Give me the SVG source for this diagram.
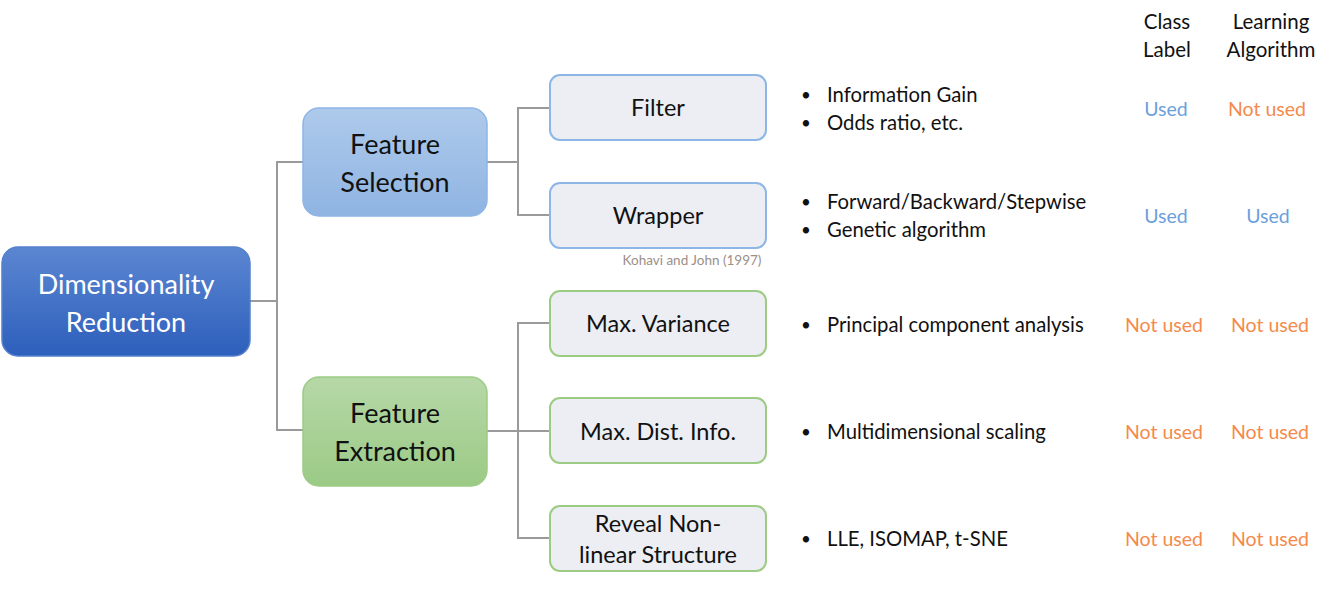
<svg xmlns="http://www.w3.org/2000/svg" width="1326" height="599" viewBox="0 0 1326 599">
<defs>
<linearGradient id="gRoot" x1="0" y1="0" x2="0" y2="1"><stop offset="0" stop-color="#5b86d1"/><stop offset="1" stop-color="#2d5fbc"/></linearGradient>
<linearGradient id="gSel" x1="0" y1="0" x2="0" y2="1"><stop offset="0" stop-color="#aecaeb"/><stop offset="1" stop-color="#8fb4e2"/></linearGradient>
<linearGradient id="gExt" x1="0" y1="0" x2="0" y2="1"><stop offset="0" stop-color="#b6d8a7"/><stop offset="1" stop-color="#9bca86"/></linearGradient>
</defs>
<style>
text{font-family:"Lato","Open Sans","DejaVu Sans",sans-serif;}
.big{font-size:27px;text-anchor:middle;fill:#111;}
.leaf{font-size:23.5px;text-anchor:middle;fill:#111;}
.lb{fill:#eceef3;stroke:#8db6e6;stroke-width:2;}
.lg{fill:#eceef3;stroke:#9ccb83;stroke-width:2;}
.conn{fill:none;stroke:#9a9a9a;stroke-width:2;}
.item{font-size:20.3px;fill:#111;}
.dot{font-size:17px;fill:#111;}
.hdr{font-size:20.5px;fill:#111;text-anchor:middle;}
.used{font-size:19.5px;fill:#6b9fdc;text-anchor:middle;}
.not{font-size:19.5px;fill:#f58a4a;text-anchor:middle;}
.note{font-size:13.5px;fill:#9b9088;text-anchor:middle;}
</style>
<g id="connectors">
<path class="conn" d="M250 301 H277 M303 162 H277 V430 H303"/>
<path class="conn" d="M487 162 H518 M550 108 H518 V215 H550"/>
<path class="conn" d="M487 431 H550 M550 323 H518 V538 H550"/>
</g>
<g id="root">
<rect x="2" y="247" width="248" height="109" rx="16" fill="url(#gRoot)" stroke="#5480cc" stroke-width="1.5"/>
<text class="big" x="126" y="294" style="fill:#fff">Dimensionality</text>
<text class="big" x="126" y="332" style="fill:#fff">Reduction</text>
</g>
<g id="feature-selection">
<rect x="303" y="108" width="184" height="108" rx="16" fill="url(#gSel)" stroke="#8db5e6" stroke-width="1.5"/>
<text class="big" x="395" y="154">Feature</text>
<text class="big" x="395" y="192">Selection</text>
</g>
<g id="feature-extraction">
<rect x="303" y="377" width="184" height="109" rx="16" fill="url(#gExt)" stroke="#9ccb85" stroke-width="1.5"/>
<text class="big" x="395" y="423">Feature</text>
<text class="big" x="395" y="461">Extraction</text>
</g>
<g id="filter">
<rect class="lb" x="550" y="75" width="216" height="65" rx="10"/>
<text class="leaf" x="658" y="116">Filter</text>
</g>
<g id="wrapper">
<rect class="lb" x="550" y="183" width="216" height="65" rx="10"/>
<text class="leaf" x="658" y="224">Wrapper</text>
</g>
<text class="note" x="692" y="265">Kohavi and John (1997)</text>
<g id="max-variance">
<rect class="lg" x="550" y="291" width="216" height="65" rx="10"/>
<text class="leaf" x="658" y="332">Max. Variance</text>
</g>
<g id="max-dist-info">
<rect class="lg" x="550" y="398" width="216" height="65" rx="10"/>
<text class="leaf" x="658" y="440">Max. Dist. Info.</text>
</g>
<g id="reveal-nonlinear">
<rect class="lg" x="550" y="506" width="216" height="65" rx="10"/>
<text class="leaf" x="658" y="532">Reveal Non-</text>
<text class="leaf" x="658" y="563">linear Structure</text>
</g>
<g id="methods">
<text class="dot" x="801" y="101">•</text><text class="item" x="827" y="102">Information Gain</text>
<text class="dot" x="801" y="129">•</text><text class="item" x="827" y="130">Odds ratio, etc.</text>
<text class="dot" x="801" y="208">•</text><text class="item" x="827" y="209">Forward/Backward/Stepwise</text>
<text class="dot" x="801" y="236">•</text><text class="item" x="827" y="237">Genetic algorithm</text>
<text class="dot" x="801" y="331">•</text><text class="item" x="827" y="332">Principal component analysis</text>
<text class="dot" x="801" y="438">•</text><text class="item" x="827" y="439">Multidimensional scaling</text>
<text class="dot" x="801" y="545">•</text><text class="item" x="827" y="546">LLE, ISOMAP, t-SNE</text>
</g>
<g id="table">
<text class="hdr" x="1167" y="29">Class</text>
<text class="hdr" x="1167" y="57">Label</text>
<text class="hdr" x="1271" y="29">Learning</text>
<text class="hdr" x="1271" y="57">Algorithm</text>
<text class="used" x="1166" y="116">Used</text>
<text class="not" x="1267" y="116">Not used</text>
<text class="used" x="1166" y="223">Used</text>
<text class="used" x="1268" y="223">Used</text>
<text class="not" x="1164" y="332">Not used</text>
<text class="not" x="1270" y="332">Not used</text>
<text class="not" x="1164" y="439">Not used</text>
<text class="not" x="1270" y="439">Not used</text>
<text class="not" x="1164" y="546">Not used</text>
<text class="not" x="1270" y="546">Not used</text>
</g>
</svg>
